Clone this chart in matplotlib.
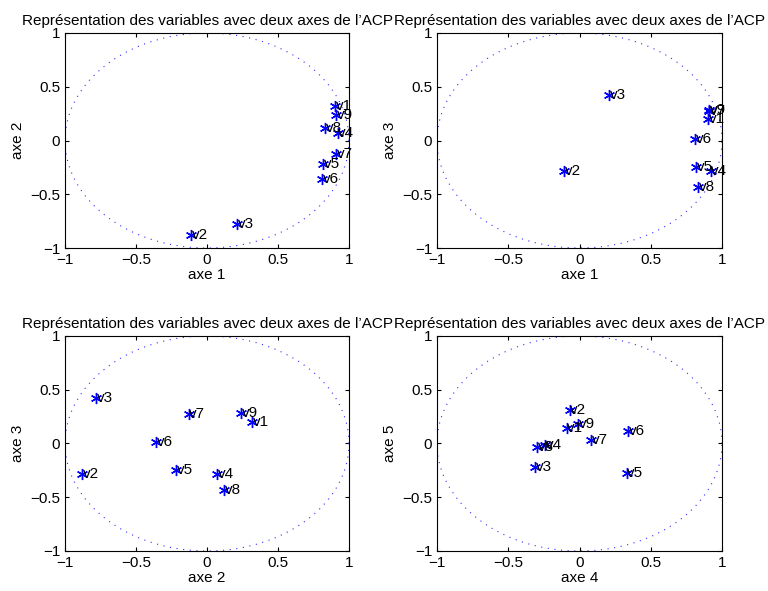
import numpy as np
import matplotlib
matplotlib.use("Agg")
import matplotlib.pyplot as plt

plt.rcParams['font.family'] = ['Liberation Sans', 'DejaVu Sans']

names = ["v1", "v2", "v3", "v4", "v5", "v6", "v7", "v8", "v9"]
# coordonnees des variables sur les axes de l'ACP
axe1 = [0.90, -0.11, 0.21, 0.92, 0.82, 0.81, 0.91, 0.83, 0.91]
axe2 = [0.32, -0.88, -0.78, 0.07, -0.22, -0.36, -0.13, 0.12, 0.24]
axe3 = [0.20, -0.28, 0.42, -0.28, -0.25, 0.01, 0.27, -0.43, 0.28]
axe4 = [-0.09, -0.07, -0.31, -0.24, 0.33, 0.34, 0.08, -0.30, -0.01]
axe5 = [0.14, 0.31, -0.22, -0.01, -0.27, 0.12, 0.03, -0.03, 0.18]

comps = {1: axe1, 2: axe2, 3: axe3, 4: axe4, 5: axe5}
pairs = [(1, 2), (1, 3), (2, 3), (4, 5)]

fig = plt.figure(figsize=(7.68, 5.91), dpi=100)
W, H = 768, 591
boxes = [(65, 33, 284, 215), (437, 33, 285, 215),
         (65, 336, 284, 215), (437, 336, 285, 215)]

t = np.linspace(0, 2 * np.pi, 400)

for (i, j), (x0, y0, w, h) in zip(pairs, boxes):
    ax = fig.add_axes([x0 / W, 1 - (y0 + h) / H, w / W, h / H])
    # cercle de correlation
    ax.plot(np.cos(t), np.sin(t), linestyle=(0, (1, 5)), linewidth=0.8, color='#3030ff')
    x = comps[i]
    y = comps[j]
    ax.plot(x, y, linestyle='none', marker=(6, 2, 0), markersize=8, color='blue',
            markeredgewidth=1.0)
    for k in range(len(names)):
        ax.text(x[k] + 0.005, y[k], names[k], fontsize=11, va='center', ha='left')
    ax.set_xlim(-1, 1)
    ax.set_ylim(-1, 1)
    ax.set_xticks([-1, -0.5, 0, 0.5, 1])
    ax.set_yticks([-1, -0.5, 0, 0.5, 1])
    ax.set_xticklabels(["\u22121", "\u22120.5", "0", "0.5", "1"])
    ax.set_yticklabels(["\u22121", "\u22120.5", "0", "0.5", "1"])
    ax.tick_params(direction='in', top=True, right=True, labelsize=11, length=3)
    ax.set_xlabel("axe %d" % i, fontsize=11, labelpad=1)
    ax.set_ylabel("axe %d" % j, fontsize=11, labelpad=4)
    ax.set_title("Représentation des variables avec deux axes de l\u2019ACP", fontsize=11, pad=6)

fig.savefig("out.png", dpi=100)
